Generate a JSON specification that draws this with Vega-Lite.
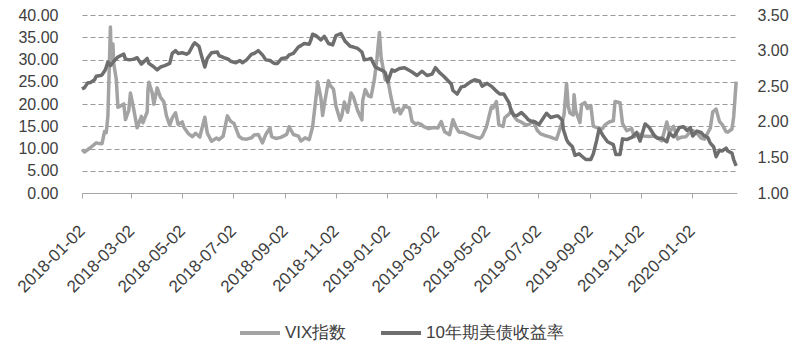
{
  "$schema": "https://vega.github.io/schema/vega-lite/v6.json",
  "width": 655,
  "height": 178,
  "autosize": {"type": "none"},
  "padding": {"left": 82, "top": 15, "right": 63, "bottom": 158},
  "background": "white",
  "config": {
    "view": {"stroke": null},
    "font": "Liberation Sans",
    "axis": {"labelFont": "Liberation Sans", "labelColor": "#404040"}
  },
  "datasets": {
    "vix": [
      {"d":"2018-01-02","v":9.77},{"d":"2018-01-05","v":9.22},{"d":"2018-01-12","v":10.16},{"d":"2018-01-19","v":11.27},{"d":"2018-01-23","v":11.10},{"d":"2018-01-26","v":11.08},{"d":"2018-01-29","v":13.84},{"d":"2018-01-31","v":13.54},{"d":"2018-02-02","v":17.31},{"d":"2018-02-05","v":37.32},{"d":"2018-02-06","v":29.98},{"d":"2018-02-08","v":33.46},{"d":"2018-02-09","v":29.06},{"d":"2018-02-12","v":25.61},{"d":"2018-02-14","v":19.26},{"d":"2018-02-16","v":19.46},{"d":"2018-02-21","v":20.02},{"d":"2018-02-23","v":16.49},{"d":"2018-02-27","v":18.59},{"d":"2018-03-01","v":22.47},{"d":"2018-03-05","v":18.73},{"d":"2018-03-09","v":14.64},{"d":"2018-03-14","v":17.23},{"d":"2018-03-16","v":15.80},{"d":"2018-03-21","v":18.20},{"d":"2018-03-22","v":23.34},{"d":"2018-03-23","v":24.87},{"d":"2018-03-27","v":22.50},{"d":"2018-03-29","v":19.97},{"d":"2018-04-02","v":23.62},{"d":"2018-04-06","v":21.49},{"d":"2018-04-10","v":20.47},{"d":"2018-04-13","v":17.41},{"d":"2018-04-17","v":15.25},{"d":"2018-04-20","v":16.88},{"d":"2018-04-24","v":18.02},{"d":"2018-04-27","v":15.41},{"d":"2018-05-02","v":15.97},{"d":"2018-05-04","v":14.77},{"d":"2018-05-09","v":13.42},{"d":"2018-05-14","v":12.65},{"d":"2018-05-18","v":13.42},{"d":"2018-05-23","v":12.58},{"d":"2018-05-29","v":17.02},{"d":"2018-06-01","v":13.46},{"d":"2018-06-06","v":11.64},{"d":"2018-06-12","v":12.34},{"d":"2018-06-15","v":11.98},{"d":"2018-06-20","v":12.79},{"d":"2018-06-25","v":17.33},{"d":"2018-06-29","v":16.09},{"d":"2018-07-03","v":15.60},{"d":"2018-07-09","v":12.69},{"d":"2018-07-13","v":12.18},{"d":"2018-07-18","v":12.10},{"d":"2018-07-24","v":12.41},{"d":"2018-07-27","v":13.03},{"d":"2018-08-01","v":13.15},{"d":"2018-08-06","v":11.27},{"d":"2018-08-10","v":13.16},{"d":"2018-08-15","v":14.64},{"d":"2018-08-17","v":12.64},{"d":"2018-08-22","v":12.25},{"d":"2018-08-28","v":12.50},{"d":"2018-09-04","v":13.16},{"d":"2018-09-07","v":14.88},{"d":"2018-09-12","v":13.14},{"d":"2018-09-18","v":12.79},{"d":"2018-09-21","v":11.68},{"d":"2018-09-26","v":12.41},{"d":"2018-10-01","v":12.00},{"d":"2018-10-05","v":14.82},{"d":"2018-10-10","v":22.96},{"d":"2018-10-11","v":24.98},{"d":"2018-10-15","v":21.30},{"d":"2018-10-17","v":17.40},{"d":"2018-10-19","v":19.89},{"d":"2018-10-24","v":25.23},{"d":"2018-10-26","v":24.16},{"d":"2018-10-30","v":23.35},{"d":"2018-11-02","v":19.51},{"d":"2018-11-07","v":16.36},{"d":"2018-11-09","v":17.36},{"d":"2018-11-12","v":20.45},{"d":"2018-11-16","v":18.14},{"d":"2018-11-20","v":22.48},{"d":"2018-11-23","v":21.52},{"d":"2018-11-28","v":18.49},{"d":"2018-12-03","v":16.44},{"d":"2018-12-04","v":20.74},{"d":"2018-12-07","v":23.23},{"d":"2018-12-11","v":21.76},{"d":"2018-12-14","v":21.63},{"d":"2018-12-18","v":25.58},{"d":"2018-12-21","v":30.11},{"d":"2018-12-24","v":36.07},{"d":"2018-12-26","v":30.41},{"d":"2018-12-31","v":25.42},
      {"d":"2019-01-03","v":25.45},{"d":"2019-01-07","v":21.40},{"d":"2019-01-11","v":18.19},{"d":"2019-01-16","v":19.04},{"d":"2019-01-18","v":17.80},{"d":"2019-01-23","v":19.52},{"d":"2019-01-29","v":19.13},{"d":"2019-02-01","v":16.14},{"d":"2019-02-06","v":15.38},{"d":"2019-02-08","v":15.72},{"d":"2019-02-12","v":15.43},{"d":"2019-02-15","v":14.91},{"d":"2019-02-21","v":14.46},{"d":"2019-02-27","v":14.70},{"d":"2019-03-04","v":14.63},{"d":"2019-03-08","v":16.05},{"d":"2019-03-12","v":13.77},{"d":"2019-03-18","v":13.10},{"d":"2019-03-22","v":16.48},{"d":"2019-03-26","v":14.68},{"d":"2019-03-29","v":13.71},{"d":"2019-04-04","v":13.58},{"d":"2019-04-11","v":13.02},{"d":"2019-04-17","v":12.60},{"d":"2019-04-23","v":12.28},{"d":"2019-04-26","v":12.73},{"d":"2019-05-01","v":14.80},{"d":"2019-05-07","v":19.32},{"d":"2019-05-09","v":19.10},{"d":"2019-05-13","v":20.55},{"d":"2019-05-16","v":15.29},{"d":"2019-05-21","v":14.95},{"d":"2019-05-23","v":16.92},{"d":"2019-05-29","v":17.90},{"d":"2019-05-31","v":18.71},{"d":"2019-06-04","v":16.97},{"d":"2019-06-07","v":16.30},{"d":"2019-06-12","v":15.91},{"d":"2019-06-17","v":15.35},{"d":"2019-06-21","v":15.40},{"d":"2019-06-26","v":16.21},{"d":"2019-07-01","v":14.06},{"d":"2019-07-05","v":13.28},{"d":"2019-07-10","v":12.93},{"d":"2019-07-15","v":12.68},{"d":"2019-07-19","v":12.39},{"d":"2019-07-24","v":12.07},{"d":"2019-07-31","v":16.12},{"d":"2019-08-02","v":17.61},{"d":"2019-08-05","v":24.59},{"d":"2019-08-07","v":19.49},{"d":"2019-08-09","v":17.97},{"d":"2019-08-13","v":17.52},{"d":"2019-08-14","v":22.10},{"d":"2019-08-16","v":18.47},{"d":"2019-08-21","v":15.80},{"d":"2019-08-23","v":19.87},{"d":"2019-08-27","v":20.31},{"d":"2019-08-30","v":18.98},{"d":"2019-09-03","v":19.66},{"d":"2019-09-06","v":15.00},{"d":"2019-09-11","v":14.61},{"d":"2019-09-17","v":14.44},{"d":"2019-09-20","v":15.32},{"d":"2019-09-25","v":15.96},{"d":"2019-09-30","v":16.24},{"d":"2019-10-02","v":20.56},{"d":"2019-10-08","v":20.28},{"d":"2019-10-11","v":15.58},{"d":"2019-10-16","v":14.00},{"d":"2019-10-22","v":14.46},{"d":"2019-10-25","v":12.65},{"d":"2019-10-31","v":13.22},{"d":"2019-11-05","v":12.83},{"d":"2019-11-12","v":12.68},{"d":"2019-11-19","v":12.86},{"d":"2019-11-22","v":12.34},{"d":"2019-11-27","v":11.75},{"d":"2019-12-03","v":15.96},{"d":"2019-12-06","v":13.62},{"d":"2019-12-11","v":14.99},{"d":"2019-12-16","v":12.14},{"d":"2019-12-20","v":12.51},{"d":"2019-12-26","v":12.65},{"d":"2019-12-31","v":13.78},
      {"d":"2020-01-03","v":14.02},{"d":"2020-01-08","v":13.45},{"d":"2020-01-13","v":12.32},{"d":"2020-01-17","v":12.10},{"d":"2020-01-24","v":14.56},{"d":"2020-01-27","v":18.23},{"d":"2020-01-31","v":18.84},{"d":"2020-02-04","v":16.05},{"d":"2020-02-07","v":15.47},{"d":"2020-02-12","v":13.74},{"d":"2020-02-14","v":13.68},{"d":"2020-02-19","v":14.38},{"d":"2020-02-21","v":17.08},{"d":"2020-02-24","v":25.03}
    ],
    "yld": [
      {"d":"2018-01-02","v":2.46},{"d":"2018-01-05","v":2.48},{"d":"2018-01-09","v":2.55},{"d":"2018-01-12","v":2.55},{"d":"2018-01-17","v":2.59},{"d":"2018-01-19","v":2.64},{"d":"2018-01-24","v":2.65},{"d":"2018-01-26","v":2.66},{"d":"2018-01-30","v":2.73},{"d":"2018-02-02","v":2.84},{"d":"2018-02-05","v":2.79},{"d":"2018-02-09","v":2.85},{"d":"2018-02-14","v":2.91},{"d":"2018-02-21","v":2.95},{"d":"2018-02-23","v":2.88},{"d":"2018-02-28","v":2.87},{"d":"2018-03-05","v":2.88},{"d":"2018-03-09","v":2.90},{"d":"2018-03-14","v":2.81},{"d":"2018-03-21","v":2.89},{"d":"2018-03-23","v":2.82},{"d":"2018-03-28","v":2.78},{"d":"2018-04-02","v":2.73},{"d":"2018-04-06","v":2.77},{"d":"2018-04-11","v":2.79},{"d":"2018-04-17","v":2.82},{"d":"2018-04-20","v":2.96},{"d":"2018-04-24","v":3.00},{"d":"2018-04-27","v":2.96},{"d":"2018-05-02","v":2.97},{"d":"2018-05-07","v":2.95},{"d":"2018-05-10","v":2.97},{"d":"2018-05-15","v":3.08},{"d":"2018-05-17","v":3.11},{"d":"2018-05-22","v":3.06},{"d":"2018-05-25","v":2.93},{"d":"2018-05-29","v":2.77},{"d":"2018-06-01","v":2.89},{"d":"2018-06-06","v":2.97},{"d":"2018-06-13","v":2.98},{"d":"2018-06-15","v":2.93},{"d":"2018-06-21","v":2.90},{"d":"2018-06-26","v":2.88},{"d":"2018-06-29","v":2.85},{"d":"2018-07-05","v":2.83},{"d":"2018-07-10","v":2.86},{"d":"2018-07-13","v":2.83},{"d":"2018-07-18","v":2.87},{"d":"2018-07-24","v":2.95},{"d":"2018-07-27","v":2.96},{"d":"2018-08-01","v":3.00},{"d":"2018-08-06","v":2.94},{"d":"2018-08-10","v":2.87},{"d":"2018-08-15","v":2.86},{"d":"2018-08-20","v":2.82},{"d":"2018-08-24","v":2.82},{"d":"2018-08-29","v":2.89},{"d":"2018-09-04","v":2.90},{"d":"2018-09-07","v":2.94},{"d":"2018-09-12","v":2.96},{"d":"2018-09-18","v":3.05},{"d":"2018-09-21","v":3.07},{"d":"2018-09-25","v":3.10},{"d":"2018-10-01","v":3.09},{"d":"2018-10-03","v":3.15},{"d":"2018-10-05","v":3.23},{"d":"2018-10-09","v":3.21},{"d":"2018-10-15","v":3.15},{"d":"2018-10-19","v":3.20},{"d":"2018-10-24","v":3.10},{"d":"2018-10-29","v":3.08},{"d":"2018-11-02","v":3.21},{"d":"2018-11-08","v":3.24},{"d":"2018-11-13","v":3.13},{"d":"2018-11-19","v":3.06},{"d":"2018-11-23","v":3.05},{"d":"2018-11-28","v":3.03},{"d":"2018-12-03","v":2.98},{"d":"2018-12-06","v":2.87},{"d":"2018-12-11","v":2.88},{"d":"2018-12-14","v":2.89},{"d":"2018-12-19","v":2.77},{"d":"2018-12-24","v":2.74},{"d":"2018-12-28","v":2.72},{"d":"2018-12-31","v":2.69},
      {"d":"2019-01-03","v":2.56},{"d":"2019-01-08","v":2.73},{"d":"2019-01-11","v":2.71},{"d":"2019-01-17","v":2.75},{"d":"2019-01-23","v":2.76},{"d":"2019-01-29","v":2.72},{"d":"2019-02-01","v":2.70},{"d":"2019-02-07","v":2.65},{"d":"2019-02-13","v":2.71},{"d":"2019-02-19","v":2.65},{"d":"2019-02-25","v":2.67},{"d":"2019-03-01","v":2.76},{"d":"2019-03-06","v":2.69},{"d":"2019-03-11","v":2.64},{"d":"2019-03-15","v":2.59},{"d":"2019-03-20","v":2.53},{"d":"2019-03-22","v":2.44},{"d":"2019-03-27","v":2.39},{"d":"2019-04-01","v":2.49},{"d":"2019-04-05","v":2.50},{"d":"2019-04-12","v":2.56},{"d":"2019-04-17","v":2.59},{"d":"2019-04-23","v":2.57},{"d":"2019-04-26","v":2.50},{"d":"2019-05-02","v":2.54},{"d":"2019-05-08","v":2.49},{"d":"2019-05-14","v":2.42},{"d":"2019-05-17","v":2.39},{"d":"2019-05-22","v":2.39},{"d":"2019-05-28","v":2.27},{"d":"2019-05-31","v":2.14},{"d":"2019-06-03","v":2.09},{"d":"2019-06-07","v":2.09},{"d":"2019-06-12","v":2.13},{"d":"2019-06-18","v":2.06},{"d":"2019-06-20","v":2.03},{"d":"2019-06-25","v":2.00},{"d":"2019-06-28","v":2.00},{"d":"2019-07-03","v":1.96},{"d":"2019-07-08","v":2.05},{"d":"2019-07-12","v":2.12},{"d":"2019-07-17","v":2.06},{"d":"2019-07-23","v":2.08},{"d":"2019-07-26","v":2.08},{"d":"2019-07-31","v":2.02},{"d":"2019-08-01","v":1.90},{"d":"2019-08-05","v":1.75},{"d":"2019-08-07","v":1.71},{"d":"2019-08-12","v":1.65},{"d":"2019-08-15","v":1.53},{"d":"2019-08-20","v":1.55},{"d":"2019-08-23","v":1.52},{"d":"2019-08-28","v":1.47},{"d":"2019-09-03","v":1.47},{"d":"2019-09-06","v":1.55},{"d":"2019-09-10","v":1.74},{"d":"2019-09-13","v":1.90},{"d":"2019-09-18","v":1.80},{"d":"2019-09-23","v":1.72},{"d":"2019-09-30","v":1.68},{"d":"2019-10-03","v":1.54},{"d":"2019-10-08","v":1.54},{"d":"2019-10-11","v":1.76},{"d":"2019-10-16","v":1.75},{"d":"2019-10-22","v":1.78},{"d":"2019-10-28","v":1.85},{"d":"2019-11-01","v":1.73},{"d":"2019-11-07","v":1.97},{"d":"2019-11-12","v":1.92},{"d":"2019-11-19","v":1.79},{"d":"2019-11-22","v":1.77},{"d":"2019-11-27","v":1.77},{"d":"2019-12-03","v":1.72},{"d":"2019-12-06","v":1.84},{"d":"2019-12-11","v":1.79},{"d":"2019-12-13","v":1.82},{"d":"2019-12-18","v":1.92},{"d":"2019-12-23","v":1.93},{"d":"2019-12-27","v":1.88},{"d":"2019-12-31","v":1.92},
      {"d":"2020-01-03","v":1.80},{"d":"2020-01-08","v":1.87},{"d":"2020-01-13","v":1.85},{"d":"2020-01-16","v":1.81},{"d":"2020-01-21","v":1.78},{"d":"2020-01-24","v":1.70},{"d":"2020-01-28","v":1.65},{"d":"2020-01-31","v":1.51},{"d":"2020-02-04","v":1.60},{"d":"2020-02-07","v":1.59},{"d":"2020-02-12","v":1.63},{"d":"2020-02-14","v":1.59},{"d":"2020-02-19","v":1.56},{"d":"2020-02-21","v":1.47},{"d":"2020-02-24","v":1.38}
    ]
  },
  "layer": [
    {
      "data": {"name": "vix"},
      "transform": [{"calculate": "'VIX指数'", "as": "s"}],
      "mark": {"type": "line", "strokeWidth": 3.5, "strokeJoin": "round"},
      "encoding": {
        "x": {
          "field": "d", "type": "temporal",
          "scale": {"type": "utc", "domain": ["2018-01-02", "2020-02-25"]},
          "axis": {
            "title": null,
            "format": "%Y-%m-%d",
            "values": [
              {"year":2018,"month":1,"date":2,"utc":true},{"year":2018,"month":3,"date":2,"utc":true},{"year":2018,"month":5,"date":2,"utc":true},{"year":2018,"month":7,"date":2,"utc":true},{"year":2018,"month":9,"date":2,"utc":true},{"year":2018,"month":11,"date":2,"utc":true},
              {"year":2019,"month":1,"date":2,"utc":true},{"year":2019,"month":3,"date":2,"utc":true},{"year":2019,"month":5,"date":2,"utc":true},{"year":2019,"month":7,"date":2,"utc":true},{"year":2019,"month":9,"date":2,"utc":true},{"year":2019,"month":11,"date":2,"utc":true},
              {"year":2020,"month":1,"date":2,"utc":true}
            ],
            "labelAngle": -45,
            "labelAlign": "right",
            "labelBaseline": "middle",
            "labelFontSize": 17,
            "labelPadding": 30,
            "labelColor": "#404040",
            "domainColor": "#a6a6a6",
            "tickColor": "#a6a6a6",
            "tickSize": 5,
            "grid": false,
            "labelOverlap": false
          }
        },
        "y": {
          "field": "v", "type": "quantitative",
          "scale": {"domain": [0, 40], "nice": false},
          "axis": {
            "title": null,
            "orient": "left",
            "values": [0, 5, 10, 15, 20, 25, 30, 35, 40],
            "format": ".2f",
            "labelFontSize": 16,
            "labelPadding": 24,
            "domain": false,
            "ticks": false,
            "grid": true,
            "gridColor": "#9a9a9a",
            "gridDash": [5, 3],
            "gridWidth": 1
          }
        },
        "color": {
          "field": "s", "type": "nominal",
          "scale": {"domain": ["VIX指数", "10年期美债收益率"], "range": ["#a3a3a3", "#6e6e6e"]},
          "legend": {
            "title": null,
            "orient": "none",
            "legendX": 156,
            "legendY": 296,
            "direction": "horizontal",
            "symbolType": "stroke",
            "symbolSize": 1600,
            "symbolStrokeWidth": 4,
            "labelFontSize": 17,
            "labelColor": "#404040",
            "columnPadding": 26,
            "labelOffset": 3
          }
        }
      }
    },
    {
      "data": {"name": "yld"},
      "transform": [{"calculate": "'10年期美债收益率'", "as": "s"}],
      "mark": {"type": "line", "strokeWidth": 3.5, "strokeJoin": "round"},
      "encoding": {
        "x": {"field": "d", "type": "temporal"},
        "y": {
          "field": "v", "type": "quantitative",
          "scale": {"domain": [1, 3.5], "nice": false},
          "axis": {
            "title": null,
            "orient": "right",
            "values": [1, 1.5, 2, 2.5, 3, 3.5],
            "format": ".2f",
            "labelFontSize": 16,
            "labelPadding": 20,
            "domain": false,
            "ticks": false,
            "grid": false
          }
        },
        "color": {"field": "s", "type": "nominal"}
      }
    }
  ],
  "resolve": {"scale": {"y": "independent"}}
}
